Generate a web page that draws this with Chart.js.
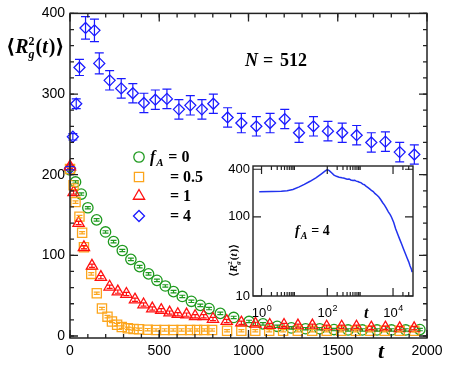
<!DOCTYPE html>
<html>
<head>
<meta charset="utf-8">
<script src="https://cdn.jsdelivr.net/npm/chart.js@4.4.1/dist/chart.umd.min.js"></script>
<style>
  html, body { margin: 0; padding: 0; background: #fff; }
  #wrap { position: relative; width: 451px; height: 366px; }
  #mainChart { position: absolute; left: 0; top: 0; }
  #insetChart { position: absolute; left: 200px; top: 155px; }
</style>
</head>
<body>
<div id="wrap">
  <canvas id="mainChart" width="451" height="366"></canvas>
  <canvas id="insetChart" width="225" height="175"></canvas>
</div>
<script>
// f_A = 0
const tA0 = [0, 31, 63, 100, 149, 199, 244, 293, 341, 390, 440, 487, 534, 580, 629, 680, 730, 779, 842, 917, 1003, 1081, 1161, 1240, 1320, 1399, 1479, 1558, 1638, 1720, 1801, 1881, 1960];
const rgA0 = [206, 191, 176, 159, 144, 129, 117, 106, 95, 86, 77, 69, 62, 55, 49, 43, 38, 34, 28, 23, 18, 15, 12, 10, 9, 9, 8, 7.5, 7.5, 7.5, 7.5, 7.5, 8];
const errA0 = 1.5;

// f_A = 0.5
const tA05 = [0, 20, 31, 53, 68, 78, 119, 150, 179, 210, 235, 264, 290, 324, 356, 387, 435, 482, 530, 578, 625, 673, 712, 752, 796, 880, 960, 1038, 1116, 1194, 1276, 1357, 1438, 1519, 1601, 1682, 1763, 1847, 1929];
const rgA05 = [207, 187, 166, 148, 128, 110, 77, 53, 34, 24, 18, 14, 11, 9.5, 8.7, 8.3, 7.8, 7.5, 7.5, 7.5, 7.5, 7.5, 7.5, 7.5, 7.5, 6.5, 6.5, 6.5, 6.5, 6.5, 6.5, 6.5, 6.5, 6.5, 6.5, 6.5, 6.5, 6.5, 6.5];
const errA05 = 1.5;

// f_A = 1
const tA1 = [0, 20, 48, 78, 123, 173, 222, 268, 316, 364, 412, 461, 511, 558, 604, 653, 701, 749, 801, 878, 960, 1039, 1119, 1199, 1277, 1358, 1438, 1522, 1605, 1688, 1767, 1847, 1928];
const rgA1 = [210, 178, 140, 110, 87, 73, 61, 55, 52, 45, 39, 34, 32, 29, 27, 26.5, 24.5, 24.5, 21, 18.5, 16.5, 15, 13.6, 13.6, 12.8, 12.8, 11.5, 11.5, 11.5, 10.3, 10.3, 9.5, 9.5];
const errA1 = 2;

// f_A = 4
const tA4 = [0, 16, 35, 53, 87, 137, 164, 222, 287, 352, 414, 478, 543, 610, 674, 739, 803, 883, 960, 1044, 1121, 1203, 1283, 1364, 1445, 1525, 1606, 1688, 1767, 1847, 1929];
const rgA4 = [208, 247, 288, 333, 382, 379, 338, 317, 307, 301, 289, 293, 294, 281, 286, 281, 288, 271, 264, 260, 264, 269, 252, 260, 254, 252, 249, 240, 241, 228, 225];
const errA4 = [2, 4, 6, 10, 14, 14, 13, 12, 12, 12, 12, 12, 12, 12, 12, 12, 12, 12, 12, 12, 12, 12, 12, 12, 12, 12, 12, 12, 12, 12, 12];

// inset: f_A = 4, log-log
const tInset = [0.85, 2, 4, 6, 9, 14, 20, 30, 45, 65, 85, 100, 115, 135, 160, 190, 230, 280, 330, 400, 460, 520, 600, 680, 760, 850, 950, 1050, 1200, 1350, 1500, 1700, 1900, 2200, 2500, 2800, 3200, 3700, 4200, 4800, 5500, 6300, 7200, 8200, 9000, 10500, 12000, 14000, 16000, 18000, 21000, 24000, 27000, 30000, 33000, 36000, 38000];
const rgInset = [208, 209, 211, 214, 222, 240, 258, 282, 312, 348, 378, 396, 385, 362, 338, 326, 318, 312, 308, 300, 302, 293, 289, 291, 283, 280, 274, 271, 260, 255, 244, 236, 228, 217, 209, 198, 189, 178, 166, 152, 141, 128, 116, 107, 99, 85, 71, 60, 52, 46, 39, 34, 30, 27, 24, 22, 20];

const legendValues = ['0', '0.5', '1', '4'];
const xTickLabels = [0, 500, 1000, 1500, 2000];
const yTickLabels = [0, 100, 200, 300, 400];
const insetXLabels = [1, 100, 10000];
const insetXMinor = [2, 3, 4, 5, 6, 7, 8, 9, 10, 200, 300, 400, 500, 600, 700, 800, 900, 1000, 20000, 30000];
const insetYLabels = [10, 100, 400];

const GREEN = '#1f9a1f', ORANGE = '#fca51c', RED = '#ff1010', BLUE = '#1a1aff';
const SERIF = '"Liberation Serif", "DejaVu Serif", serif';
const SANS = '"Liberation Sans", Arial, sans-serif';

function series(ts, vs, errs, color, style, radius, cap, order) {
    return {
        data: ts.map((t, i) => ({ x: t, y: vs[i] })),
        errors: errs,
        capWidth: cap,
        borderColor: color,
        backgroundColor: 'rgba(0,0,0,0)',
        pointStyle: style,
        pointRadius: radius,
        pointBorderWidth: 1.3,
        showLine: false,
        clip: false,
        order: order
    };
}

const datasets = [
    series(tA0, rgA0, errA0, GREEN, 'circle', 5.2, 3, 3),
    series(tA05, rgA05, errA05, ORANGE, 'rect', 6.5, 3, 2),
    series(tA1, rgA1, errA1, RED, 'triangle', 6.5, 3, 0),
    series(tA4, rgA4, errA4, BLUE, 'rectRot', 5.5, 4.5, 1)
];

function inwardTicks(chart, axis, values, len) {
    const ctx = chart.ctx, a = chart.chartArea, s = chart.scales[axis];
    ctx.beginPath();
    values.forEach(v => {
        const p = s.getPixelForValue(v);
        if (axis === 'x') {
            ctx.moveTo(p, a.bottom); ctx.lineTo(p, a.bottom - len);
            ctx.moveTo(p, a.top); ctx.lineTo(p, a.top + len);
        } else {
            ctx.moveTo(a.left, p); ctx.lineTo(a.left + len, p);
            ctx.moveTo(a.right, p); ctx.lineTo(a.right - len, p);
        }
    });
    ctx.stroke();
}

function drawErrorBars(chart) {
    const ctx = chart.ctx, ys = chart.scales.y;
    chart.data.datasets.forEach((ds, i) => {
        const meta = chart.getDatasetMeta(i);
        ctx.save();
        ctx.strokeStyle = ds.borderColor;
        ctx.lineWidth = 1.2;
        ctx.beginPath();
        meta.data.forEach((pt, j) => {
            const e = Array.isArray(ds.errors) ? ds.errors[j] : ds.errors;
            const v = ds.data[j].y;
            const top = ys.getPixelForValue(v + e), bot = ys.getPixelForValue(v - e);
            const cw = ds.capWidth;
            ctx.moveTo(pt.x, top); ctx.lineTo(pt.x, bot);
            ctx.moveTo(pt.x - cw, top); ctx.lineTo(pt.x + cw, top);
            ctx.moveTo(pt.x - cw, bot); ctx.lineTo(pt.x + cw, bot);
        });
        ctx.stroke();
        ctx.restore();
    });
}

// f_A style label: italic f, subscript A, then rest
function fALabel(ctx, x, y, size, rest) {
    ctx.font = 'italic bold ' + size + 'px ' + SERIF;
    ctx.fillText('f', x, y);
    const fw = ctx.measureText('f').width;
    ctx.font = 'italic bold ' + Math.round(size * 0.68) + 'px ' + SERIF;
    ctx.fillText('A', x + fw + 1, y + size * 0.25);
    const aw = ctx.measureText('A').width;
    ctx.font = 'bold ' + size + 'px ' + SERIF;
    ctx.fillText(rest, x + fw + aw + size * 0.35, y);
}

function rgLabel(ctx, x, y, size) {
    const small = Math.round(size * 0.62);
    let cx = x;
    ctx.font = 'bold ' + size + 'px ' + SERIF;
    ctx.fillText('\u27E8', cx, y); cx += ctx.measureText('\u27E8').width;
    ctx.font = 'italic bold ' + size + 'px ' + SERIF;
    ctx.fillText('R', cx, y); cx += ctx.measureText('R').width;
    ctx.font = 'italic bold ' + small + 'px ' + SERIF;
    ctx.fillText('g', cx, y + size * 0.25);
    const gw = ctx.measureText('g').width;
    ctx.font = 'bold ' + small + 'px ' + SERIF;
    ctx.fillText('2', cx, y - size * 0.42);
    cx += Math.max(gw, ctx.measureText('2').width) + 1;
    ctx.font = 'bold ' + size + 'px ' + SERIF;
    ctx.fillText('(', cx, y); cx += ctx.measureText('(').width;
    ctx.font = 'italic bold ' + size + 'px ' + SERIF;
    ctx.fillText('t', cx, y); cx += ctx.measureText('t').width + 1;
    ctx.font = 'bold ' + size + 'px ' + SERIF;
    ctx.fillText(')', cx, y); cx += ctx.measureText(')').width;
    ctx.fillText('\u27E9', cx, y); cx += ctx.measureText('\u27E9').width;
    return cx - x;
}

const mainDecor = {
    id: 'mainDecor',
    beforeDraw(chart) {
        const ctx = chart.ctx;
        ctx.save();
        ctx.fillStyle = '#fff';
        ctx.fillRect(0, 0, chart.width, chart.height);
        ctx.restore();
    },
    afterDatasetsDraw(chart) {
        const ctx = chart.ctx, a = chart.chartArea;
        drawErrorBars(chart);
        ctx.save();
        ctx.strokeStyle = '#222';
        ctx.lineWidth = 1.5;
        ctx.strokeRect(a.left, a.top, a.right - a.left, a.bottom - a.top);
        ctx.lineWidth = 1.3;
        const xMinor = [], yMinor = [];
        for (let v = 0; v <= 2000; v += 100) xMinor.push(v);
        for (let v = 0; v <= 400; v += 20) yMinor.push(v);
        inwardTicks(chart, 'x', xMinor, 4);
        inwardTicks(chart, 'x', xTickLabels, 8);
        inwardTicks(chart, 'y', yMinor, 4);
        inwardTicks(chart, 'y', yTickLabels, 8);

        ctx.fillStyle = '#000';
        ctx.textBaseline = 'alphabetic';
        ctx.textAlign = 'left';
        rgLabel(ctx, 6, 53, 20);

        ctx.font = 'italic bold 18px ' + SERIF;
        ctx.fillText('N', 245, 66);
        ctx.font = 'bold 18px ' + SERIF;
        ctx.fillText('=', 263, 66);
        ctx.fillText('512', 280, 66);

        ctx.font = 'italic bold 22px ' + SERIF;
        ctx.fillText('t', 378, 358);

        // legend
        const rows = [157, 177, 196, 216];
        chart.data.datasets.forEach((ds, i) => {
            ctx.save();
            ctx.strokeStyle = ds.borderColor;
            ctx.fillStyle = 'rgba(0,0,0,0)';
            ctx.lineWidth = 1.3;
            Chart.helpers.drawPoint(ctx, { pointStyle: ds.pointStyle, radius: ds.pointRadius, rotation: 0, borderWidth: 1.3 }, 139, rows[i]);
            ctx.restore();
            ctx.fillStyle = '#000';
            if (i === 0) {
                fALabel(ctx, 150, rows[i] + 5, 16, '= ' + legendValues[i]);
            } else {
                ctx.font = 'bold 16px ' + SERIF;
                ctx.fillText('= ' + legendValues[i], 170, rows[i] + 5);
            }
        });
        ctx.restore();
    }
};

new Chart(document.getElementById('mainChart'), {
    type: 'scatter',
    data: { datasets: datasets },
    options: {
        responsive: false,
        animation: false,
        layout: { padding: { top: 13, right: 24, left: 0, bottom: 0 } },
        plugins: { legend: { display: false }, tooltip: { enabled: false } },
        scales: {
            x: {
                type: 'linear', min: 0, max: 2000,
                afterFit: s => { s.height = 28; },
                afterBuildTicks: s => { s.ticks = xTickLabels.map(v => ({ value: v })); },
                grid: { display: false, drawTicks: false },
                border: { display: false },
                ticks: {
                    padding: 5, maxRotation: 0, autoSkip: false,
                    color: '#000', font: { family: SANS, size: 14 },
                    callback: v => String(v)
                }
            },
            y: {
                type: 'linear', min: -2.5, max: 400,
                afterFit: s => { s.width = 70; },
                afterBuildTicks: s => { s.ticks = yTickLabels.map(v => ({ value: v })); },
                grid: { display: false, drawTicks: false },
                border: { display: false },
                ticks: {
                    padding: 5, autoSkip: false,
                    color: '#000', font: { family: SANS, size: 14 },
                    callback: v => String(v)
                }
            }
        }
    },
    plugins: [mainDecor]
});

const insetDecor = {
    id: 'insetDecor',
    beforeDatasetsDraw(chart) {
        const ctx = chart.ctx, a = chart.chartArea;
        ctx.save();
        ctx.fillStyle = '#fff';
        ctx.fillRect(a.left, a.top, a.right - a.left, a.bottom - a.top);
        ctx.restore();
    },
    afterDatasetsDraw(chart) {
        const ctx = chart.ctx, a = chart.chartArea, xs = chart.scales.x;
        ctx.save();
        ctx.strokeStyle = '#222';
        ctx.lineWidth = 1.4;
        ctx.strokeRect(a.left, a.top, a.right - a.left, a.bottom - a.top);
        ctx.lineWidth = 1.2;
        inwardTicks(chart, 'x', insetXMinor, 4);
        inwardTicks(chart, 'x', insetXLabels, 8);
        inwardTicks(chart, 'y', insetYLabels, 8);

        ctx.fillStyle = '#000';
        ctx.textBaseline = 'alphabetic';
        // 10^n labels
        insetXLabels.forEach(v => {
            const exp = String(Math.round(Math.log10(v)));
            ctx.font = '13px ' + SANS;
            const bw = ctx.measureText('10').width;
            ctx.font = '9px ' + SANS;
            const ew = ctx.measureText(exp).width;
            const cx = xs.getPixelForValue(v) - (bw + ew) / 2;
            ctx.font = '13px ' + SANS;
            ctx.fillText('10', cx, 162);
            ctx.font = '9px ' + SANS;
            ctx.fillText(exp, cx + bw + 0.5, 156);
        });
        ctx.font = 'italic bold 16px ' + SERIF;
        ctx.fillText('t', 164, 163);

        fALabel(ctx, 95, 80, 14, '= 4');

        ctx.save();
        ctx.translate(37, 122);
        ctx.rotate(-Math.PI / 2);
        rgLabel(ctx, 0, 0, 11);
        ctx.restore();
        ctx.restore();
    }
};

new Chart(document.getElementById('insetChart'), {
    type: 'line',
    data: {
        datasets: [{
            data: tInset.map((t, i) => ({ x: t, y: rgInset[i] })),
            borderColor: '#2233ee',
            borderWidth: 1.5,
            pointRadius: 0,
            fill: false,
            tension: 0
        }]
    },
    options: {
        responsive: false,
        animation: false,
        layout: { padding: { top: 11, right: 12, left: 0, bottom: 0 } },
        plugins: { legend: { display: false }, tooltip: { enabled: false } },
        scales: {
            x: {
                type: 'logarithmic', min: 0.55, max: 40500,
                afterFit: s => { s.height = 34; },
                grid: { display: false, drawTicks: false },
                border: { display: false },
                ticks: { display: false }
            },
            y: {
                type: 'logarithmic', min: 10, max: 440,
                afterFit: s => { s.width = 53; },
                afterBuildTicks: s => { s.ticks = insetYLabels.map(v => ({ value: v })); },
                grid: { display: false, drawTicks: false },
                border: { display: false },
                ticks: {
                    autoSkip: false, padding: 3, color: '#000',
                    font: { family: SANS, size: 13 },
                    callback: v => String(v)
                }
            }
        }
    },
    plugins: [insetDecor]
});
</script>
</body>
</html>
